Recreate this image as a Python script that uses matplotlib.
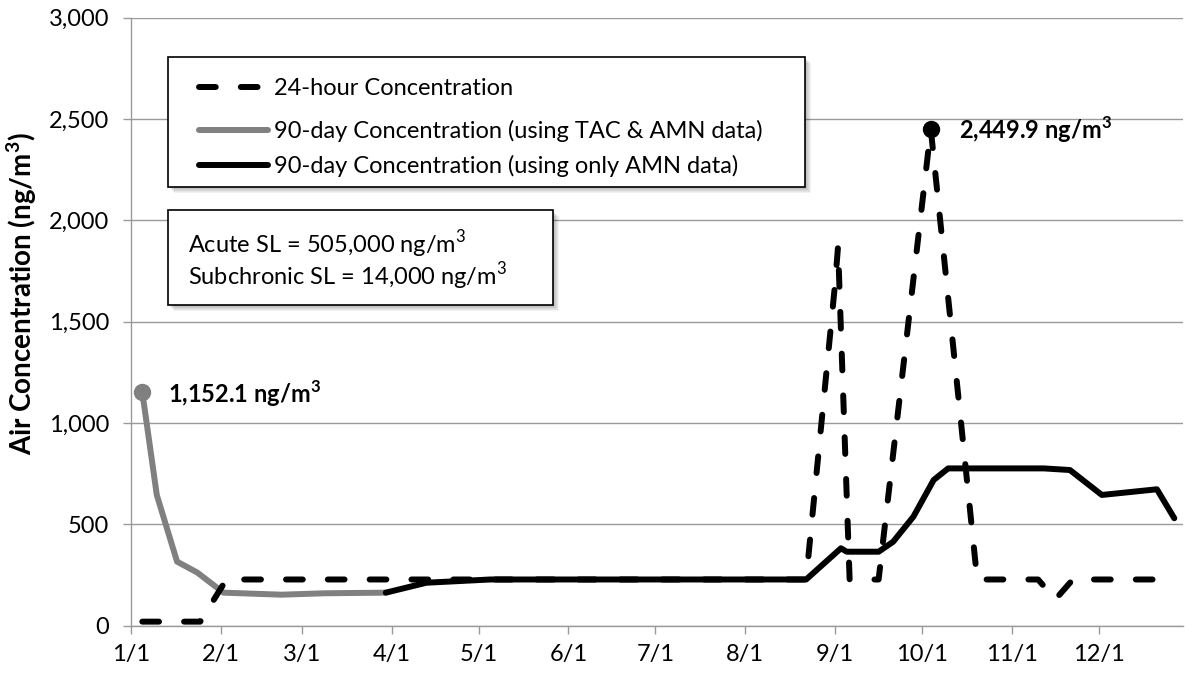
import numpy as np
import pandas as pd
import matplotlib
matplotlib.use("Agg")
import matplotlib.pyplot as plt
import matplotlib.dates as mdates
from matplotlib.patches import Rectangle
from matplotlib.lines import Line2D
from matplotlib.ticker import FuncFormatter, MultipleLocator

plt.rcParams['font.family'] = ['Lato', 'DejaVu Sans']
plt.rcParams['mathtext.fontset'] = 'custom'
plt.rcParams['mathtext.rm'] = 'Lato'
plt.rcParams['mathtext.bf'] = 'Lato:bold'

YEAR = '2015'

# 24-hour concentrations (black dashed)
dates_24h = ['01-05', '01-25', '02-03', '08-22', '09-01', '09-02', '09-06',
             '09-16', '10-04', '10-20', '11-10', '11-16', '11-22', '12-23']
conc_24h = [20, 20, 228, 228, 1690, 1870, 228, 228, 2449.9, 228, 228, 130, 228, 228]

# 90-day concentrations using TAC & AMN data (grey)
dates_tac = ['01-05', '01-10', '01-17', '01-24', '02-02', '02-22', '03-09', '03-30']
conc_tac = [1152.1, 645, 316, 262, 163, 153, 160, 163]

# 90-day concentrations using only AMN data (black solid)
dates_amn = ['03-30', '04-13', '05-05', '08-22', '09-03', '09-05', '09-16', '09-21',
             '09-28', '10-05', '10-10', '11-12', '11-21', '12-02', '12-21', '12-27']
conc_amn = [163, 212, 228, 228, 382, 365, 365, 414, 538, 719, 776, 776, 768, 645, 673, 530]

series_names = ['24-hour Concentration',
                '90-day Concentration (using TAC & AMN data)',
                '90-day Concentration (using only AMN data)']
sl_lines = [r'Acute SL = 505,000 ng/m$^{\mathrm{3}}$',
            r'Subchronic SL = 14,000 ng/m$^{\mathrm{3}}$']
UNIT_BOLD = r'ng/m$^{\mathbf{3}}$'

W, H = 1185, 677
GREY = '#808080'
AXGREY = '#9a9a9a'
LW = 4.3
FS = 17


def fx(px):
    return px / W


def fy(py):
    return 1 - py / H


def to_dates(days):
    return pd.to_datetime([YEAR + '-' + d for d in days])


fig = plt.figure(figsize=(W / 100, H / 100), dpi=100)
ax = fig.add_axes([fx(130.7), fy(625.7), fx(1183) - fx(130.7), fy(17.6) - fy(625.7)])

d24 = to_dates(dates_24h)
dtac = to_dates(dates_tac)
damn = to_dates(dates_amn)

ax.plot(dtac, conc_tac, color=GREY, lw=LW, solid_capstyle='round',
        solid_joinstyle='round', zorder=3)
ax.plot(damn, conc_amn, color='black', lw=LW, solid_capstyle='round',
        solid_joinstyle='round', zorder=4)
ax.plot(d24, conc_24h, color='black', lw=LW, dashes=(2.8, 4.2),
        dash_capstyle='round', zorder=5)

# highlight the first 90-day value and the 24-hour maximum
i_max = int(np.argmax(conc_24h))
ax.plot(dtac[0], conc_tac[0], 'o', color=GREY, ms=11.5, zorder=6)
ax.plot(d24[i_max], conc_24h[i_max], 'o', color='black', ms=11.5, zorder=6)
ax.annotate(f'{conc_tac[0]:,.1f} ' + UNIT_BOLD, xy=(dtac[0], conc_tac[0]),
            xytext=(18.7, -7.9), textcoords='offset points',
            fontsize=FS, fontweight='bold', va='baseline', ha='left')
ax.annotate(f'{conc_24h[i_max]:,.1f} ' + UNIT_BOLD, xy=(d24[i_max], conc_24h[i_max]),
            xytext=(20.4, -7.2), textcoords='offset points',
            fontsize=FS, fontweight='bold', va='baseline', ha='left')

# axes
start = pd.Timestamp(YEAR + '-01-01')
ax.set_xlim(start, start + pd.Timedelta(days=363))
ax.set_ylim(0, 3000)
ax.yaxis.set_major_locator(MultipleLocator(500))
ax.yaxis.set_major_formatter(FuncFormatter(lambda v, p: f'{v:,.0f}'))
ax.xaxis.set_major_locator(mdates.MonthLocator())
ax.xaxis.set_major_formatter(
    FuncFormatter(lambda v, p: f'{mdates.num2date(v).month}/{mdates.num2date(v).day}'))
ax.grid(axis='y', color=AXGREY, lw=1.0)
ax.set_axisbelow(True)
for side in ['top', 'right']:
    ax.spines[side].set_visible(False)
for side in ['left', 'bottom']:
    ax.spines[side].set_color(AXGREY)
    ax.spines[side].set_linewidth(1.0)
ax.tick_params(axis='both', colors=AXGREY, labelcolor='black', labelsize=FS,
               length=5.5, width=1.0)
ax.tick_params(axis='x', pad=8)
ax.tick_params(axis='y', pad=10)
ax.set_ylabel(r'Air Concentration (ng/m$^{\mathbf{3}}$)', fontsize=20,
              fontweight='bold', va='center')
ax.yaxis.set_label_coords((22 - 130.7) / (1183 - 130.7), (625.7 - 294) / 608.1)


def draw_box(x0, y0, x1, y1):
    # soft shadow down and to the right, then the white framed box
    for k in range(1, 7):
        fig.add_artist(Rectangle((fx(x0 + k), fy(y1 + k)), fx(x1 - x0), fy(y0) - fy(y1),
                                 transform=fig.transFigure, facecolor='black',
                                 edgecolor='none', alpha=0.05, zorder=10))
    fig.add_artist(Rectangle((fx(x0), fy(y1)), fx(x1 - x0), fy(y0) - fy(y1),
                             transform=fig.transFigure, facecolor='white',
                             edgecolor='black', lw=1.2, zorder=11))


# legend
draw_box(168, 57, 805, 187)
handle_y = [86.7, 130, 165]
text_base = [95, 138.3, 173.3]
styles = [dict(color='black', dashes=(2.8, 4.2), dash_capstyle='round'),
          dict(color=GREY, solid_capstyle='round'),
          dict(color='black', solid_capstyle='round')]
for hy, tb, name, st in zip(handle_y, text_base, series_names, styles):
    fig.add_artist(Line2D([fx(199), fx(268)], [fy(hy), fy(hy)], lw=LW,
                          transform=fig.transFigure, zorder=12, **st))
    fig.text(fx(274), fy(tb), name, fontsize=FS, va='baseline', ha='left', zorder=13)

# screening level box
draw_box(168, 210, 553, 305)
for tb, line in zip([253.3, 285], sl_lines):
    fig.text(fx(188), fy(tb), line, fontsize=FS, va='baseline', ha='left', zorder=13)

fig.savefig('out.png', dpi=100)
